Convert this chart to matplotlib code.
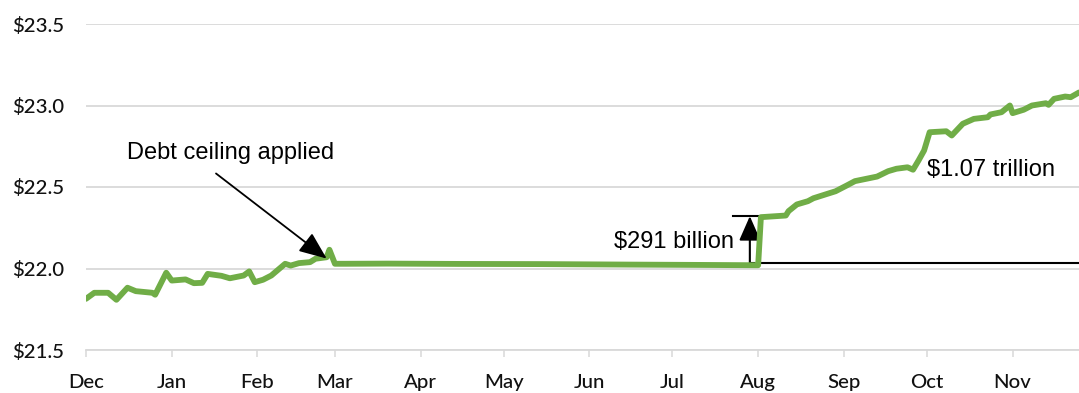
import matplotlib
matplotlib.use("Agg")
import matplotlib.pyplot as plt
import matplotlib.dates as mdates
import pandas as pd

# ---- data (debt, trillions of dollars) ----
dates = [
    "2018-12-01", "2018-12-04", "2018-12-09", "2018-12-12", "2018-12-16", "2018-12-19",
    "2018-12-25", "2018-12-26", "2018-12-30", "2019-01-01", "2019-01-06", "2019-01-09",
    "2019-01-12", "2019-01-14", "2019-01-19", "2019-01-22", "2019-01-27", "2019-01-29",
    "2019-01-31", "2019-02-03", "2019-02-06", "2019-02-11", "2019-02-13", "2019-02-16",
    "2019-02-20", "2019-02-22", "2019-02-26", "2019-02-27", "2019-03-01", "2019-03-05",
    "2019-03-20", "2019-04-15", "2019-05-15", "2019-06-15", "2019-07-10", "2019-07-31",
    "2019-08-01", "2019-08-02", "2019-08-11", "2019-08-12", "2019-08-15", "2019-08-19",
    "2019-08-21", "2019-08-26", "2019-08-29", "2019-09-02", "2019-09-05", "2019-09-09",
    "2019-09-13", "2019-09-17", "2019-09-20", "2019-09-24", "2019-09-26", "2019-09-28",
    "2019-09-30", "2019-10-02", "2019-10-08", "2019-10-10", "2019-10-14", "2019-10-18",
    "2019-10-23", "2019-10-24", "2019-10-28", "2019-10-31", "2019-11-01", "2019-11-05",
    "2019-11-08", "2019-11-13", "2019-11-14", "2019-11-16", "2019-11-20", "2019-11-22",
    "2019-11-25",
]
debt = [
    21.814, 21.851, 21.851, 21.808, 21.882, 21.861,
    21.851, 21.839, 21.974, 21.926, 21.933, 21.910,
    21.912, 21.967, 21.955, 21.940, 21.957, 21.982,
    21.916, 21.931, 21.957, 22.029, 22.018, 22.033,
    22.039, 22.060, 22.069, 22.115, 22.029, 22.029,
    22.030, 22.028, 22.027, 22.024, 22.022, 22.020,
    22.020, 22.315, 22.325, 22.352, 22.393, 22.413,
    22.431, 22.458, 22.474, 22.509, 22.536, 22.550,
    22.564, 22.597, 22.612, 22.621, 22.606, 22.663,
    22.724, 22.836, 22.842, 22.816, 22.888, 22.918,
    22.928, 22.945, 22.959, 23.000, 22.953, 22.974,
    23.000, 23.014, 23.004, 23.041, 23.055, 23.051,
    23.080,
]
y_ticks = [21.5, 22.0, 22.5, 23.0, 23.5]
y_labels = ["$21.5", "$22.0", "$22.5", "$23.0", "$23.5"]
month_starts = ["2018-12-01", "2019-01-01", "2019-02-01", "2019-03-01", "2019-04-01",
                "2019-05-01", "2019-06-01", "2019-07-01", "2019-08-01", "2019-09-01",
                "2019-10-01", "2019-11-01"]
month_labels = ["Dec", "Jan", "Feb", "Mar", "Apr", "May", "Jun", "Jul", "Aug", "Sep", "Oct", "Nov"]

# annotation values
ceiling_level = 22.032
after_jump = 22.321

x = pd.to_datetime(dates)

fig = plt.figure(figsize=(10.79, 3.93), dpi=100)
ax = fig.add_axes([86 / 1079, 1 - 350 / 393, 1 - 86 / 1079, (350 - 24) / 393])

ax.plot(x, debt, color="#70AD47", lw=4.2, solid_joinstyle="round", solid_capstyle="round", zorder=3)

ax.set_xlim(pd.Timestamp("2018-12-01"), pd.Timestamp("2019-11-25"))
ax.set_ylim(21.5, 23.5)

ax.set_yticks(y_ticks)
ax.set_yticklabels(y_labels)
ax.set_xticks(pd.to_datetime(month_starts))
ax.set_xticklabels(month_labels)

for lab in ax.get_yticklabels() + ax.get_xticklabels():
    lab.set_fontfamily("Lato")
    lab.set_fontsize(14.7)
    lab.set_fontweight("medium")
    lab.set_color("#111111")

ax.tick_params(axis="y", length=0, pad=16)
ax.tick_params(axis="x", length=5, width=1.1, color="#d9d9d9", pad=12)

ax.grid(axis="y", color="#d9d9d9", lw=1.3)
ax.set_axisbelow(True)
for s in ["top", "right", "left"]:
    ax.spines[s].set_visible(False)
ax.spines["bottom"].set_color("#d9d9d9")
ax.spines["bottom"].set_linewidth(1.3)

afont = dict(family="Liberation Sans", size=17, color="black")

# Debt ceiling applied arrow
ax.annotate("", xy=(pd.Timestamp("2019-02-26"), 22.061),
            xytext=(pd.Timestamp("2019-01-17"), 22.583),
            arrowprops=dict(arrowstyle="-|>,head_length=0.85,head_width=0.35",
                            mutation_scale=20, color="black", lw=1.3,
                            shrinkA=0, shrinkB=0), zorder=4)
ax.text(pd.Timestamp("2018-12-16"), 22.706, "Debt ceiling applied", va="center", ha="left", **afont)

# $291 billion bracket
xb = pd.Timestamp("2019-07-29")
ax.plot([pd.Timestamp("2019-07-23"), pd.Timestamp("2019-08-03")], [after_jump, after_jump],
        color="black", lw=1.5, zorder=2)
ax.plot([xb, pd.Timestamp("2019-11-25")], [ceiling_level, ceiling_level],
        color="black", lw=1.5, zorder=2, clip_on=False)
ax.annotate("", xy=(xb, after_jump), xytext=(xb, ceiling_level),
            arrowprops=dict(arrowstyle="-|>,head_length=0.75,head_width=0.33",
                            mutation_scale=20, color="black", lw=1.5,
                            shrinkA=0, shrinkB=0), zorder=2)
ax.text(pd.Timestamp("2019-06-10"), 22.161, "$291 billion", va="center", ha="left", **afont)

ax.text(pd.Timestamp("2019-10-01"), 22.606, "$1.07 trillion", va="center", ha="left", **afont)

fig.savefig("out.png", dpi=100)
